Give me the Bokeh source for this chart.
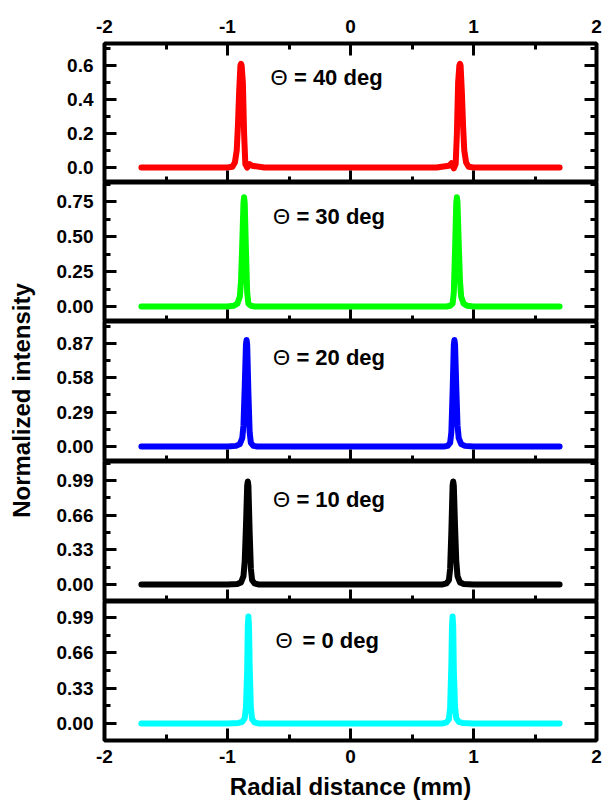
import math
from bokeh.plotting import figure
from bokeh.layouts import row, column
from bokeh.models import LinearAxis, FixedTicker, Range1d
from bokeh.core.properties import value
from bokeh.embed import file_html
from bokeh.resources import INLINE

# ---------------- data ----------------
x_ticks = [-2, -1, 0, 1, 2]
x_minor = [-1.5, -0.5, 0.5, 1.5]
x_tick_labels = ["-2", "-1", "0", "1", "2"]

x40 = [-1.70, -1.00, -0.96, -0.94, -0.925, -0.915, -0.905, -0.895, -0.89, -0.885, -0.875, -0.865, -0.855, -0.84, -0.82, -0.80, -0.70,
       0.00,
       0.70, 0.80, 0.82, 0.84, 0.855, 0.865, 0.875, 0.885, 0.89, 0.895, 0.905, 0.915, 0.925, 0.94, 0.96, 1.00, 1.70]
y40 = [0.0, 0.0, 0.005, 0.03, 0.10, 0.25, 0.45, 0.60, 0.61, 0.60, 0.50, 0.20, 0.02, 0.0, 0.02, 0.01, 0.0,
       0.0,
       0.0, 0.01, 0.025, -0.005, 0.02, 0.20, 0.50, 0.60, 0.61, 0.60, 0.45, 0.25, 0.10, 0.03, 0.005, 0.0, 0.0]

x30 = [-1.70, -1.00, -0.95, -0.92, -0.90, -0.89, -0.88, -0.87, -0.865, -0.86, -0.85, -0.84, -0.83, -0.81, -0.78,
       0.00,
       0.78, 0.81, 0.83, 0.84, 0.85, 0.86, 0.865, 0.87, 0.88, 0.89, 0.90, 0.92, 0.95, 1.00, 1.70]
y30 = [0.0, 0.0, 0.005, 0.02, 0.07, 0.18, 0.45, 0.74, 0.78, 0.74, 0.40, 0.10, 0.02, 0.005, 0.0,
       0.0,
       0.0, 0.005, 0.02, 0.10, 0.40, 0.74, 0.78, 0.74, 0.45, 0.18, 0.07, 0.02, 0.005, 0.0, 0.0]

x20 = [-1.70, -1.00, -0.93, -0.90, -0.88, -0.87, -0.86, -0.85, -0.845, -0.84, -0.83, -0.82, -0.81, -0.79, -0.76,
       0.00,
       0.76, 0.79, 0.81, 0.82, 0.83, 0.84, 0.845, 0.85, 0.86, 0.87, 0.88, 0.90, 0.93, 1.00, 1.70]
y20 = [0.0, 0.0, 0.005, 0.02, 0.07, 0.18, 0.50, 0.86, 0.90, 0.86, 0.45, 0.12, 0.03, 0.005, 0.0,
       0.0,
       0.0, 0.005, 0.03, 0.12, 0.45, 0.86, 0.90, 0.86, 0.50, 0.18, 0.07, 0.02, 0.005, 0.0, 0.0]

x10 = [-1.70, -1.00, -0.92, -0.89, -0.87, -0.86, -0.85, -0.84, -0.835, -0.83, -0.82, -0.81, -0.80, -0.78, -0.75,
       0.00,
       0.75, 0.78, 0.80, 0.81, 0.82, 0.83, 0.835, 0.84, 0.85, 0.86, 0.87, 0.89, 0.92, 1.00, 1.70]
y10 = [0.0, 0.0, 0.005, 0.02, 0.08, 0.22, 0.55, 0.94, 0.98, 0.94, 0.50, 0.15, 0.04, 0.01, 0.0,
       0.0,
       0.0, 0.01, 0.04, 0.15, 0.50, 0.94, 0.98, 0.94, 0.55, 0.22, 0.08, 0.02, 0.005, 0.0, 0.0]

x0 = [-1.70, -1.00, -0.91, -0.88, -0.86, -0.85, -0.84, -0.835, -0.83, -0.825, -0.82, -0.81, -0.80, -0.78, -0.75,
      0.00,
      0.75, 0.78, 0.80, 0.81, 0.82, 0.825, 0.83, 0.835, 0.84, 0.85, 0.86, 0.88, 0.91, 1.00, 1.70]
y0 = [0.0, 0.0, 0.005, 0.015, 0.05, 0.15, 0.50, 0.90, 1.00, 0.90, 0.55, 0.15, 0.04, 0.01, 0.0,
      0.0,
      0.0, 0.01, 0.04, 0.15, 0.55, 0.90, 1.00, 0.90, 0.50, 0.15, 0.05, 0.015, 0.005, 0.0, 0.0]

yticks40 = [0.0, 0.2, 0.4, 0.6]
ylabels40 = ["0.0", "0.2", "0.4", "0.6"]
yminor40 = [0.1, 0.3, 0.5, 0.7]

yticks30 = [0.0, 0.25, 0.50, 0.75]
ylabels30 = ["0.00", "0.25", "0.50", "0.75"]
yminor30 = [0.125, 0.375, 0.625, 0.875]

yticks20 = [0.0, 0.29, 0.58, 0.87]
ylabels20 = ["0.00", "0.29", "0.58", "0.87"]
yminor20 = [0.145, 0.435, 0.725, 1.015]

yticks10 = [0.0, 0.33, 0.66, 0.99]
ylabels10 = ["0.00", "0.33", "0.66", "0.99"]
yminor10 = [0.165, 0.495, 0.825, 1.155]

yticks0 = [0.0, 0.33, 0.66, 0.99]
ylabels0 = ["0.00", "0.33", "0.66", "0.99"]
yminor0 = [0.165, 0.495, 0.825, 1.155]

angle_labels = ["= 40 deg", "= 30 deg", "= 20 deg", "= 10 deg", "= 0 deg"]
theta_symbol = "\u0398"

y_title = "Normalized intensity"
x_title = "Radial distance (mm)"

# ---------------- styling helpers ----------------
FONT = "Liberation Sans"


def style_axis(ax, show_labels):
    ax.axis_line_color = None
    ax.major_tick_in = 12
    ax.major_tick_out = 0
    ax.minor_tick_in = 6
    ax.minor_tick_out = 0
    ax.major_tick_line_width = 3
    ax.minor_tick_line_width = 3
    ax.major_tick_line_color = "black"
    ax.minor_tick_line_color = "black"
    ax.major_label_text_font = FONT
    ax.major_label_text_font_style = "bold"
    if show_labels:
        ax.major_label_text_color = "black"
        ax.major_label_text_font_size = "19px"
    else:
        ax.major_label_text_color = None
        ax.major_label_text_font_size = "0px"
        ax.major_label_standoff = 0


def make_panel(xs, ys, color, yticks, ylabels, yminor, yr, h, label, ann_y, theta_x, eq_x,
               top=False, bottom=False):
    p = figure(width=563, height=h, x_range=Range1d(-2, 2), y_range=Range1d(*yr),
               x_axis_type=None, y_axis_type=None,
               output_backend="svg", toolbar_location=None,
               min_border_left=64, min_border_right=7,
               min_border_top=43 if top else 0,
               min_border_bottom=66 if bottom else 0)
    p.outline_line_color = "black"
    p.outline_line_width = 4
    p.background_fill_color = "white"
    p.border_fill_color = "white"

    yt = FixedTicker(ticks=yticks, minor_ticks=yminor)
    left = LinearAxis(ticker=yt, major_label_overrides={t: l for t, l in zip(yticks, ylabels)})
    style_axis(left, True)
    left.major_label_standoff = 11
    p.add_layout(left, "left")

    right = LinearAxis(ticker=FixedTicker(ticks=yticks, minor_ticks=yminor))
    style_axis(right, False)
    p.add_layout(right, "right")

    below = LinearAxis(ticker=FixedTicker(ticks=x_ticks, minor_ticks=x_minor),
                       major_label_overrides={t: l for t, l in zip(x_ticks, x_tick_labels)})
    style_axis(below, bottom)
    if bottom:
        below.major_label_standoff = 9
        below.axis_label = x_title
        below.axis_label_text_font = FONT
        below.axis_label_text_font_style = "bold"
        below.axis_label_text_font_size = "24px"
        below.axis_label_text_color = "black"
        below.axis_label_standoff = 7
    p.add_layout(below, "below")

    if top:
        above = LinearAxis(ticker=FixedTicker(ticks=x_ticks, minor_ticks=x_minor),
                           major_label_overrides={t: l for t, l in zip(x_ticks, x_tick_labels)})
        style_axis(above, True)
        above.major_label_standoff = 11
        p.add_layout(above, "above")

    p.line(xs, ys, line_color=color, line_width=6, line_cap="round", line_join="round")

    p.text(x=[theta_x], y=[ann_y], text=[theta_symbol], text_font=value(FONT),
           text_font_size="22px", text_baseline="middle", text_align="left", text_color="black")
    p.text(x=[eq_x], y=[ann_y], text=[label], text_font=value(FONT), text_font_style="bold",
           text_font_size="22px", text_baseline="middle", text_align="left", text_color="black")
    return p


p1 = make_panel(x40, y40, "#ff0000", yticks40, ylabels40, yminor40, (-0.088, 0.729), 182,
                angle_labels[0], 0.53, -0.65, -0.46, top=True)
p2 = make_panel(x30, y30, "#00ff00", yticks30, ylabels30, yminor30, (-0.107, 0.886), 139,
                angle_labels[1], 0.64, -0.63, -0.44)
p3 = make_panel(x20, y20, "#0000ff", yticks20, ylabels20, yminor20, (-0.127, 1.056), 140,
                angle_labels[2], 0.75, -0.63, -0.44)
p4 = make_panel(x10, y10, "#000000", yticks10, ylabels10, yminor10, (-0.162, 1.17), 140,
                angle_labels[3], 0.81, -0.63, -0.44)
p5 = make_panel(x0, y0, "#00ffff", yticks0, ylabels0, yminor0, (-0.159, 1.14), 205,
                angle_labels[4], 0.78, -0.61, -0.39, bottom=True)

lab = figure(width=40, height=806, x_range=Range1d(0, 40), y_range=Range1d(0, 806),
             x_axis_type=None, y_axis_type=None, output_backend="svg", toolbar_location=None,
             min_border=0)
lab.outline_line_color = None
lab.grid.visible = False
lab.text(x=[21], y=[406], text=[y_title], angle=math.pi / 2, text_font=value(FONT),
         text_font_style="bold", text_font_size="24px", text_align="center",
         text_baseline="middle", text_color="black")

layout = row(lab, column(p1, p2, p3, p4, p5, spacing=0), spacing=0)

open("out.html", "w").write(file_html(layout, INLINE))
